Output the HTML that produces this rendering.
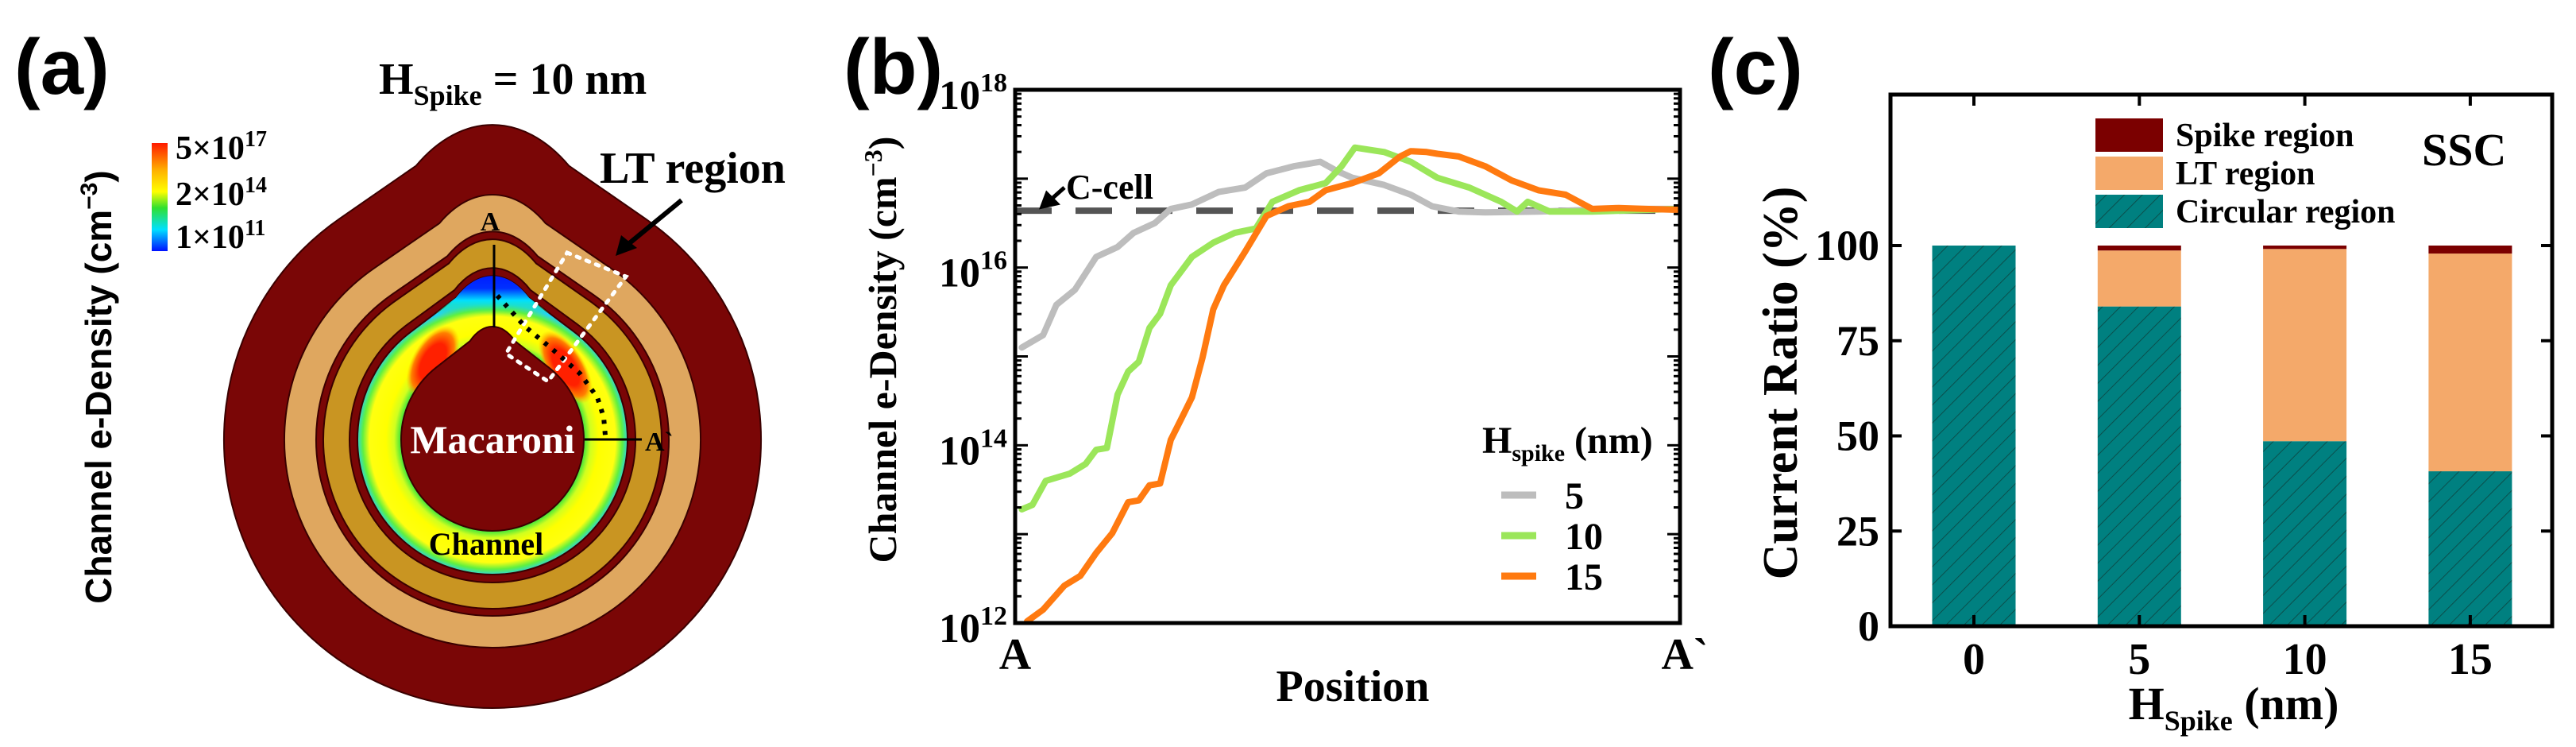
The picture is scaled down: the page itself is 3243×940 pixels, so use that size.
<!DOCTYPE html>
<html><head><meta charset="utf-8"><style>
html,body{margin:0;padding:0;background:#fff;}
svg{display:block;}
.serif{font-family:"Liberation Serif","DejaVu Serif",serif;font-weight:bold;}
.sans{font-family:"Liberation Sans","DejaVu Sans",sans-serif;font-weight:bold;}
</style></head><body>
<svg id="fig" xmlns="http://www.w3.org/2000/svg" width="3243" height="940" viewBox="0 0 3243 940">
<defs>
<linearGradient id="cbar" x1="0" y1="0" x2="0" y2="1">
<stop offset="0" stop-color="#ff1a00"/><stop offset="0.25" stop-color="#ffb000"/><stop offset="0.45" stop-color="#ffff00"/><stop offset="0.6" stop-color="#30e030"/><stop offset="0.8" stop-color="#00e0ff"/><stop offset="1" stop-color="#0010ff"/>
</linearGradient>
<radialGradient id="chanGrad" cx="620" cy="553" r="172" gradientUnits="userSpaceOnUse">
<stop offset="0.66" stop-color="#20e040"/><stop offset="0.72" stop-color="#d0ff20"/><stop offset="0.78" stop-color="#ffff00"/><stop offset="0.9" stop-color="#ffff10"/><stop offset="0.95" stop-color="#60f040"/><stop offset="1" stop-color="#20d0ff"/>
</radialGradient>
<radialGradient id="redBlob"><stop offset="0.5" stop-color="#ff2000"/><stop offset="0.8" stop-color="#ff8000"/><stop offset="1" stop-color="#ffc000" stop-opacity="0"/></radialGradient>
<linearGradient id="blueCap" x1="0" y1="0" x2="0" y2="1">
<stop offset="0" stop-color="#0010ff"/><stop offset="0.45" stop-color="#0030ff"/><stop offset="0.7" stop-color="#00e0ff"/><stop offset="1" stop-color="#40f040" stop-opacity="0"/>
</linearGradient>
<pattern id="hatch" patternUnits="userSpaceOnUse" width="16" height="16" patternTransform="rotate(45)">
<rect width="16" height="16" fill="#008080"/><line x1="0" y1="0" x2="0" y2="16" stroke="#0b4f4c" stroke-width="2"/>
</pattern>
<clipPath id="chanClip"><path id="chanClipPath" d=""/></clipPath>
</defs>

<g id="panelA">
<text class="sans" x="18" y="118" font-size="98">(a)</text>
<text class="serif" x="477" y="118" font-size="56">H<tspan font-size="36" dy="14">Spike</tspan><tspan dy="-14"> = 10 nm</tspan></text>
<text class="sans" transform="translate(140,487) rotate(-90)" text-anchor="middle" font-size="46">Channel e-Density (cm<tspan font-size="30" dy="-18">−3</tspan><tspan dy="18">)</tspan></text>
<rect x="191" y="180" width="20" height="136" fill="url(#cbar)"/>
<g class="serif" font-size="42">
<text x="221" y="200">5×10<tspan font-size="28" dy="-16">17</tspan></text>
<text x="221" y="258">2×10<tspan font-size="28" dy="-16">14</tspan></text>
<text x="221" y="312">1×10<tspan font-size="28" dy="-16">11</tspan></text>
</g>
<g id="device"></g>
<text class="serif" x="755" y="230" font-size="56">LT region</text>
<line x1="858" y1="252" x2="790" y2="308" stroke="#000" stroke-width="6"/>
<polygon points="775,322 782,296 802,312" fill="#000"/>
</g>

<g id="panelB">
<text class="sans" x="1062" y="118" font-size="98">(b)</text>
</g>

<g id="panelC">
<text class="sans" x="2150" y="118" font-size="98">(c)</text>
</g>
</svg>
<script>
const posB5 = [0.010,0.042,0.062,0.090,0.122,0.154,0.178,0.210,0.234,0.266,0.306,0.346,0.378,0.419,0.459,0.483,0.507,0.555,0.595,0.627,0.667,0.707,0.787,0.908,0.996];
const logB5 = [15.10,15.24,15.58,15.75,16.12,16.23,16.39,16.50,16.66,16.71,16.85,16.90,17.06,17.14,17.19,17.09,17.01,16.93,16.82,16.69,16.63,16.62,16.63,16.66,16.66];
const posB10 = [0.010,0.026,0.046,0.082,0.106,0.122,0.138,0.154,0.170,0.186,0.202,0.218,0.234,0.266,0.298,0.330,0.362,0.387,0.427,0.467,0.491,0.511,0.555,0.595,0.635,0.683,0.731,0.755,0.771,0.804,0.868,0.996];
const logB10 = [13.28,13.33,13.60,13.68,13.79,13.95,13.97,14.57,14.83,14.94,15.32,15.48,15.80,16.12,16.28,16.39,16.44,16.74,16.87,16.95,17.14,17.35,17.30,17.19,17.01,16.90,16.74,16.63,16.74,16.63,16.63,16.66];
const posB15 = [0.018,0.042,0.074,0.098,0.122,0.146,0.170,0.186,0.202,0.218,0.234,0.250,0.266,0.282,0.298,0.314,0.346,0.378,0.411,0.443,0.467,0.507,0.547,0.579,0.595,0.619,0.635,0.667,0.707,0.747,0.787,0.828,0.868,0.908,0.948,0.996];
const logB15 = [12.02,12.15,12.42,12.53,12.79,13.01,13.36,13.38,13.55,13.57,14.06,14.30,14.54,14.99,15.53,15.80,16.18,16.58,16.69,16.74,16.87,16.95,17.06,17.25,17.31,17.30,17.28,17.25,17.14,16.98,16.87,16.82,16.66,16.67,16.66,16.65];
const cCellLog = 16.64;
const yTickExpB = [12,14,16,18];
const legendLabelsB = ["5","10","15"];

const catsC = ["0","5","10","15"];
const circularC = [100,84,48.6,40.7];
const ltC = [0,14.7,50.5,57.2];
const spikeC = [0,1.3,0.9,2.1];
const yTicksC = [0,25,50,75,100];

const NS = "http://www.w3.org/2000/svg";
function mk(tag, attrs, parent){const e=document.createElementNS(NS,tag);for(const k in attrs)e.setAttribute(k,attrs[k]);if(parent)parent.appendChild(e);return e;}

(function(){
  const g=document.getElementById('device');
  const cx=620, cy=553;
  function tear(r, apexY, k){
    const d=cy-apexY;
    const a=Math.acos(r/d);
    const t1x=cx-r*Math.sin(a), t1y=cy-r*Math.cos(a);
    const t2x=cx+r*Math.sin(a), t2y=t1y;
    const p1x=t1x+(cx-t1x)*k, p1y=t1y+(apexY-t1y)*k;
    const p2x=t2x+(cx-t2x)*k, p2y=t2y+(apexY-t2y)*k;
    return `M ${t1x} ${t1y} L ${p1x} ${p1y} C ${p1x+(cx-p1x)*0.6} ${apexY-2} ${p2x-(p2x-cx)*0.6} ${apexY-2} ${p2x} ${p2y} L ${t2x} ${t2y} A ${r} ${r} 0 1 1 ${t1x} ${t1y} Z`;
  }
  const layers=[
    [338,142,'#7a0606','outer-dielectric',0.5],
    [262,235,'#dfa75f','blocking-layer',0.55],
    [222,283,'#7a0606','trap-layer-edge',0.55],
    [213,293,'#c99522','charge-trap-layer',0.55],
    [180,330,'#7a0606','tunnel-layer',0.55],
    [170,340,'url(#chanGrad)','channel-layer',0.55]
  ];
  layers.forEach(l=>{
    const p=mk('path',{d:tear(l[0],l[1],l[4]),fill:l[2],stroke:'#3a0000','stroke-width':2},g);
    
    
  });
  document.getElementById('chanClipPath').setAttribute('d',tear(170,340,0.55));
  const cg=mk('g',{'clip-path':'url(#chanClip)'},g);
  
  
  mk('rect',{x:540,y:336,width:160,height:60,fill:'url(#blueCap)'},cg);
  mk('ellipse',{cx:545,cy:455,rx:26,ry:50,fill:'url(#redBlob)',transform:'rotate(30 545 455)'},cg);
  mk('ellipse',{cx:712,cy:462,rx:24,ry:52,fill:'url(#redBlob)',transform:'rotate(-32 712 462)'},cg);
  const inner=mk('path',{d:tear(115,407,0.6),fill:'#7a0606',stroke:'#3a0000','stroke-width':2},g);
  
  
  const lt=mk('polygon',{points:'714,318 788,348 690,480 637,445',fill:'none',stroke:'#fff','stroke-width':5,'stroke-dasharray':'4 9','stroke-linecap':'round'},g);
  
  
  const cut=mk('path',{d:'M 626 372 L 661 411 L 696 440 L 730 470 L 752 500 L 760 525 L 762 548',fill:'none',stroke:'#000','stroke-width':6,'stroke-dasharray':'5 9'},g);
  
  
  const la=mk('line',{x1:622,y1:308,x2:622,y2:412,stroke:'#000','stroke-width':3},g);
  
  
  const lb=mk('line',{x1:736,y1:553,x2:808,y2:553,stroke:'#000','stroke-width':3},g);
  
  
  const ta=mk('text',{x:617,y:290,'text-anchor':'middle','font-size':34,class:'serif'},g); ta.textContent='A';
  
  
  const tb=mk('text',{x:812,y:567,'font-size':34,class:'serif'},g); tb.textContent='A`';
  
  
  const tm=mk('text',{x:620,y:570,'text-anchor':'middle','font-size':50,class:'serif',fill:'#fff'},g); tm.textContent='Macaroni';
  
  
  const tc=mk('text',{x:612,y:698,'text-anchor':'middle','font-size':40,class:'serif',fill:'#000'},g); tc.textContent='Channel';
  
  
})();

(function(){
  const g=document.getElementById('panelB');
  const L=1278,R=2115,T=113,B=784;
  const yMin=12,yMax=18;
  const xS=f=>L+f*(R-L);
  const yS=v=>B-(v-yMin)/(yMax-yMin)*(B-T);
  const cl=mk('line',{x1:L,y1:yS(cCellLog),x2:R,y2:yS(cCellLog),stroke:'#555','stroke-width':8,'stroke-dasharray':'46 30'},g);
  
  
  const series=[[posB5,logB5,'#bdbdbd','series-h5'],[posB10,logB10,'#9be65a','series-h10'],[posB15,logB15,'#ff7a10','series-h15']];
  series.forEach(s=>{
    const pts=s[0].map((p,i)=>xS(p).toFixed(1)+','+yS(s[1][i]).toFixed(1)).join(' ');
    const pl=mk('polyline',{points:pts,fill:'none',stroke:s[2],'stroke-width':8,'stroke-linejoin':'round','stroke-linecap':'round'},g);
    
    
  });
  const fr=mk('rect',{x:L,y:T,width:R-L,height:B-T,fill:'none',stroke:'#000','stroke-width':5},g);
  
  
  for(let e=yMin;e<yMax;e++){
    for(let m=1;m<10;m++){
      const y=yS(e+Math.log10(m));
      const len=m===1?16:8;
      mk('line',{x1:L,y1:y,x2:L+len,y2:y,stroke:'#000','stroke-width':3},g);
      mk('line',{x1:R,y1:y,x2:R-len,y2:y,stroke:'#000','stroke-width':3},g);
    }
  }
  yTickExpB.forEach(e=>{
    const t=mk('text',{x:L-10,y:yS(e)+24,'text-anchor':'end','font-size':52,class:'serif'},g);
    
    
    t.innerHTML='10<tspan font-size="34" dy="-22">'+e+'</tspan>';
  });
  const yt=mk('text',{transform:'translate(1128,440) rotate(-90)','text-anchor':'middle','font-size':50,class:'serif'},g);
  
  
  yt.innerHTML='Channel e-Density (cm<tspan font-size="32" dy="-18">−3</tspan><tspan dy="18">)</tspan>';
  const xa=mk('text',{x:L,y:842,'text-anchor':'middle','font-size':56,class:'serif'},g); xa.textContent='A';
  
  
  const xb=mk('text',{x:R+6,y:842,'text-anchor':'middle','font-size':56,class:'serif'},g); xb.textContent='A`';
  
  
  const xt=mk('text',{x:1703,y:882,'text-anchor':'middle','font-size':56,class:'serif'},g); xt.textContent='Position';
  
  
  const cc=mk('text',{x:1342,y:250,'font-size':44,class:'serif'},g); cc.textContent='C-cell';
  
  
  const ca=mk('path',{d:'M 1340 236 L 1322 252 M 1312 260 L 1330 256 L 1318 244 Z',stroke:'#000','stroke-width':5,fill:'#000'},g);
  
  
  const lg=mk('g',{},g);
  
  
  const lt=mk('text',{x:1866,y:570,'font-size':48,class:'serif'},lg);
  
  
  lt.innerHTML='H<tspan font-size="30" dy="10">spike</tspan><tspan dy="-10"> (nm)</tspan>';
  legendLabelsB.forEach((lab,i)=>{
    const y=623+i*51;
    const ln=mk('line',{x1:1890,y1:y,x2:1934,y2:y,stroke:series[i][2],'stroke-width':9},lg);
    
    
    const t=mk('text',{x:1970,y:y+17,'font-size':48,class:'serif'},lg); t.textContent=lab;
    
    
  });
})();

(function(){
  const g=document.getElementById('panelC');
  const L=2380,R=3213,T=119,B=788;
  const yS=v=>B-v*4.79;
  const x0=2485, step=208.3, bw=105;
  const xS=i=>x0+i*step;
  catsC.forEach((c,i)=>{
    const cx=xS(i);
    let base=0;
    [[circularC,'url(#hatch)','bar-circular-'],[ltC,'#f4a96a','bar-lt-'],[spikeC,'#7b0000','bar-spike-']].forEach(s=>{
      const v=s[0][i];
      if(v>0){
        const r=mk('rect',{x:cx-bw/2,y:yS(base+v),width:bw,height:yS(base)-yS(base+v),fill:s[1]},g);
        
        
      }
      base+=v;
    });
    mk('line',{x1:cx,y1:B,x2:cx,y2:B-14,stroke:'#000','stroke-width':4},g);
    mk('line',{x1:cx,y1:T,x2:cx,y2:T+14,stroke:'#000','stroke-width':4},g);
    const t=mk('text',{x:cx,y:848,'text-anchor':'middle','font-size':56,class:'serif'},g); t.textContent=c;
    
    
  });
  const fr=mk('rect',{x:L,y:T,width:R-L,height:B-T,fill:'none',stroke:'#000','stroke-width':5},g);
  
  
  yTicksC.forEach(v=>{
    mk('line',{x1:L,y1:yS(v),x2:L+14,y2:yS(v),stroke:'#000','stroke-width':4},g);
    mk('line',{x1:R,y1:yS(v),x2:R-14,y2:yS(v),stroke:'#000','stroke-width':4},g);
    const t=mk('text',{x:L-14,y:yS(v)+18,'text-anchor':'end','font-size':54,class:'serif'},g); t.textContent=v;
    
    
  });
  const yt=mk('text',{transform:'translate(2262,482) rotate(-90)','text-anchor':'middle','font-size':62,class:'serif'},g); yt.textContent='Current Ratio (%)';
  
  
  const xt=mk('text',{x:2812,y:905,'text-anchor':'middle','font-size':58,class:'serif'},g);
  
  
  xt.innerHTML='H<tspan font-size="36" dy="14">Spike</tspan><tspan dy="-14"> (nm)</tspan>';
  const ssc=mk('text',{x:3049,y:208,'font-size':58,class:'serif'},g); ssc.textContent='SSC';
  
  
  const leg=[['#7b0000','Spike region',149],['#f4a96a','LT region',197],['url(#hatch)','Circular region',245]];
  leg.forEach(l=>{
    const r=mk('rect',{x:2638,y:l[2],width:85,height:42,fill:l[0]},g);
    
    
    const t=mk('text',{x:2739,y:l[2]+35,'font-size':42,class:'serif'},g); t.textContent=l[1];
    
    
  });
})();
</script>
</body></html>
